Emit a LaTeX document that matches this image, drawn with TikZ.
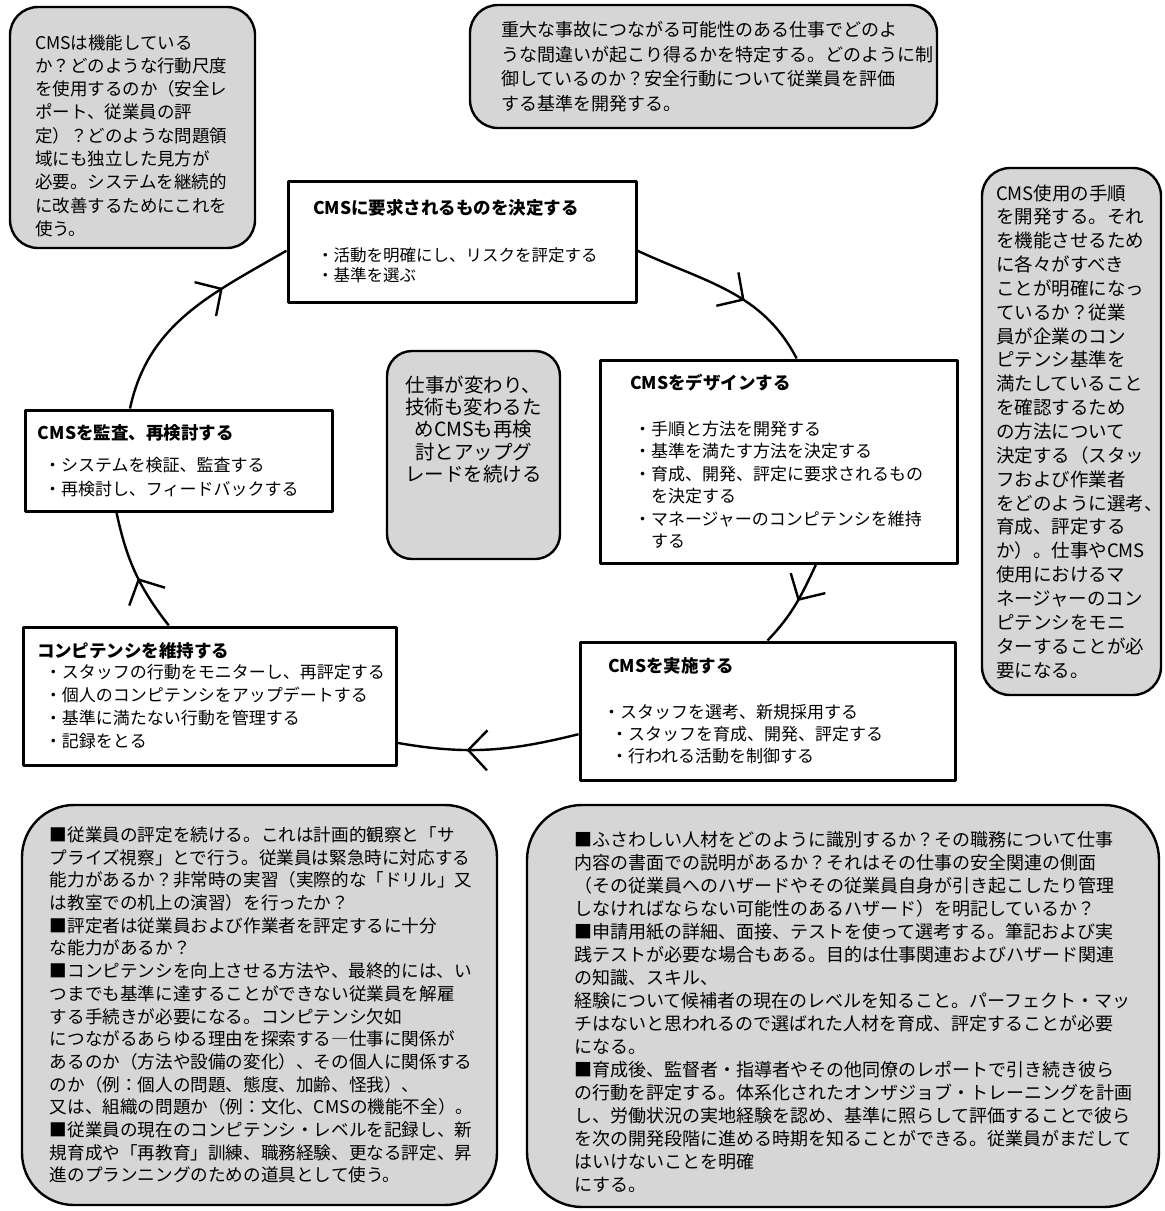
\documentclass[tikz,border=0pt]{standalone}
\usepackage{fontspec}
\newfontfamily\jp{Noto Sans CJK JP}
\usetikzlibrary{arrows.meta,decorations.markings,positioning}
\newcommand\headfont{\bfseries\fontsize{17.5}{20}\selectfont}

\begin{document}
\begin{tikzpicture}[x=1pt,y=1pt,line join=round]
 \tikzstyle{gray note}=[draw,line width=2.4pt,fill=black!16,rounded corners=28pt,inner sep=0pt,align=left]
 \tikzstyle{stage node}=[draw,line width=3pt,fill=white,inner sep=0pt,align=left]
 \tikzset{
   cycle arc/.style={line width=2.4pt,postaction={decorate,decoration={markings,
     mark=at position #1 with {\arrow{Straight Barb[length=19pt,width=40pt]}}}}}
 }
 \useasboundingbox (0,0) rectangle (1165,-1211);

 % notes round the cycle
 \node[gray note,text width=245pt,minimum height=241pt,font=\jp\fontsize{17.5}{23.3}\selectfont] (tl) at (132.5,-127.5)
  {\leftskip=25pt \rule{0pt}{31pt}CMSは機能している\\
   か？どのような行動尺度\\
   を使用するのか（安全レ\\
   ポート、従業員の評\\
   定）？どのような問題領\\
   域にも独立した見方が\\
   必要。システムを継続的\\
   に改善するためにこれを\\
   使う。\par};
 \node[gray note,text width=467pt,minimum height=123pt,font=\jp\fontsize{18}{24.5}\selectfont] (tc) at (703.5,-66.5)
  {\leftskip=31pt 重大な事故につながる可能性のある仕事でどのよ\\
   うな間違いが起こり得るかを特定する。どのように制\\
   御しているのか？安全行動について従業員を評価\\
   する基準を開発する。\par};
 \node[gray note,text width=179pt,minimum height=527pt,font=\jp\fontsize{18.5}{23.85}\selectfont] (rt) at (1071.5,-431.5)
  {\leftskip=14pt CMS使用の手順\\
   を開発する。それ\\
   を機能させるため\\
   に各々がすべき\\
   ことが明確になっ\\
   ているか？従業\\
   員が企業のコン\\
   ピテンシ基準を\\
   満たしていること\\
   を確認するため\\
   の方法について\\
   決定する（スタッ\\
   フおよび作業者\\
   をどのように選考、\\
   育成、評定する\\
   か）。仕事やCMS\\
   使用におけるマ\\
   ネージャーのコン\\
   ピテンシをモニ\\
   ターすることが必\\
   要になる。\par};
 \node[gray note,align=center,text width=173pt,minimum height=208pt,rounded corners=25pt,font=\jp\fontsize{19.5}{22.3}\selectfont] (ctr) at (473.5,-455)
  {仕事が変わり、\\
   技術も変わるた\\
   めCMSも再検\\
   討とアップグ\\
   レードを続ける\rule[-53pt]{0pt}{1pt}};
 \node[gray note,text width=475pt,minimum height=400pt,rounded corners=52pt,font=\jp\fontsize{17.6}{22.7}\selectfont] (bl) at (259.5,-1005)
  {\leftskip=28pt ■従業員の評定を続ける。これは計画的観察と「サ\\
   プライズ視察」とで行う。従業員は緊急時に対応する\\
   能力があるか？非常時の実習（実際的な「ドリル」又\\
   は教室での机上の演習）を行ったか？\\
   ■評定者は従業員および作業者を評定するに十分\\
   な能力があるか？\\
   ■コンピテンシを向上させる方法や、最終的には、い\\
   つまでも基準に達することができない従業員を解雇\\
   する手続きが必要になる。コンピテンシ欠如\\
   につながるあらゆる理由を探索する―仕事に関係が\\
   あるのか（方法や設備の変化）、その個人に関係する\\
   のか（例：個人の問題、態度、加齢、怪我）、\\
   又は、組織の問題か（例：文化、CMSの機能不全）。\\
   ■従業員の現在のコンピテンシ・レベルを記録し、新\\
   規育成や「再教育」訓練、職務経験、更なる評定、昇\\
   進のプランニングのための道具として使う。\par};
 \node[gray note,text width=632pt,minimum height=402pt,rounded corners=55pt,font=\jp\fontsize{18}{23}\selectfont] (br) at (843,-1006)
  {\leftskip=47pt \rule{0pt}{28pt}■ふさわしい人材をどのように識別するか？その職務について仕事\\
   内容の書面での説明があるか？それはその仕事の安全関連の側面\\
   （その従業員へのハザードやその従業員自身が引き起こしたり管理\\
   しなければならない可能性のあるハザード）を明記しているか？\\
   ■申請用紙の詳細、面接、テストを使って選考する。筆記および実\\
   践テストが必要な場合もある。目的は仕事関連およびハザード関連\\
   の知識、スキル、\\
   経験について候補者の現在のレベルを知ること。パーフェクト・マッ\\
   チはないと思われるので選ばれた人材を育成、評定することが必要\\
   になる。\\
   ■育成後、監督者・指導者やその他同僚のレポートで引き続き彼ら\\
   の行動を評定する。体系化されたオンザジョブ・トレーニングを計画\\
   し、労働状況の実地経験を認め、基準に照らして評価することで彼ら\\
   を次の開発段階に進める時期を知ることができる。従業員がまだして\\
   はいけないことを明確\\
   にする。\par};

 % the five stages
 \node[stage node,text width=348pt,minimum height=121pt,font=\jp\fontsize{16.5}{20}\selectfont] (det) at (462,-241.5)
  {\leftskip=25pt {\headfont CMSに要求されるものを決定する}\\[27pt]
   \hspace*{4pt}・活動を明確にし、リスクを評定する\\
   \hspace*{4pt}・基準を選ぶ\par};
 \node[stage node,text width=357pt,minimum height=203pt,font=\jp\fontsize{17}{22.5}\selectfont] (des) at (778.5,-461.5)
  {\leftskip=30pt {\headfont CMSをデザインする}\\[23.5pt]
   \hspace*{4pt}・手順と方法を開発する\\
   \hspace*{4pt}・基準を満たす方法を決定する\\
   \hspace*{4pt}・育成、開発、評定に要求されるもの\\
   \hspace*{21pt}を決定する\\
   \hspace*{4pt}・マネージャーのコンピテンシを維持\\
   \hspace*{21pt}する\par};
 \node[stage node,text width=375pt,minimum height=138pt,font=\jp\fontsize{17}{22}\selectfont] (imp) at (767.5,-711)
  {\leftskip=28pt {\headfont CMSを実施する}\\[24pt]
   \hspace*{-5pt}・スタッフを選考、新規採用する\\
   \hspace*{3pt}・スタッフを育成、開発、評定する\\
   \hspace*{3pt}・行われる活動を制御する\par};
 \node[stage node,text width=373pt,minimum height=138pt,font=\jp\fontsize{17}{23}\selectfont] (mnt) at (209.5,-696)
  {\leftskip=14pt {\headfont コンピテンシを維持する}\\[-2pt]
   \hspace*{8pt}・スタッフの行動をモニターし、再評定する\\
   \hspace*{8pt}・個人のコンピテンシをアップデートする\\
   \hspace*{8pt}・基準に満たない行動を管理する\\
   \hspace*{8pt}・記録をとる\par};
 \node[stage node,text width=307pt,minimum height=101pt,font=\jp\fontsize{17}{24}\selectfont] (aud) at (178.5,-460.5)
  {\leftskip=13pt {\headfont CMSを監査、再検討する}\\[8pt]
   \hspace*{6pt}・システムを検証、監査する\\
   \hspace*{6pt}・再検討し、フィードバックする\par};

 % cycle
 \draw[cycle arc=0.68] (aud.133) to[out=78,in=210] (det.183);
 \draw[cycle arc=0.6] (det.-3) to[out=-25,in=117.5] (des.80);
 \draw[cycle arc=0.45] (des.-70) to[out=245,in=46] (imp.north);
 \draw[cycle arc=0.62] (imp.187) to[out=194,in=-10] (mnt.-14);
 \draw[cycle arc=0.45] (mnt.120) to[out=128,in=282] (aud.-140);
\end{tikzpicture}
\end{document}
